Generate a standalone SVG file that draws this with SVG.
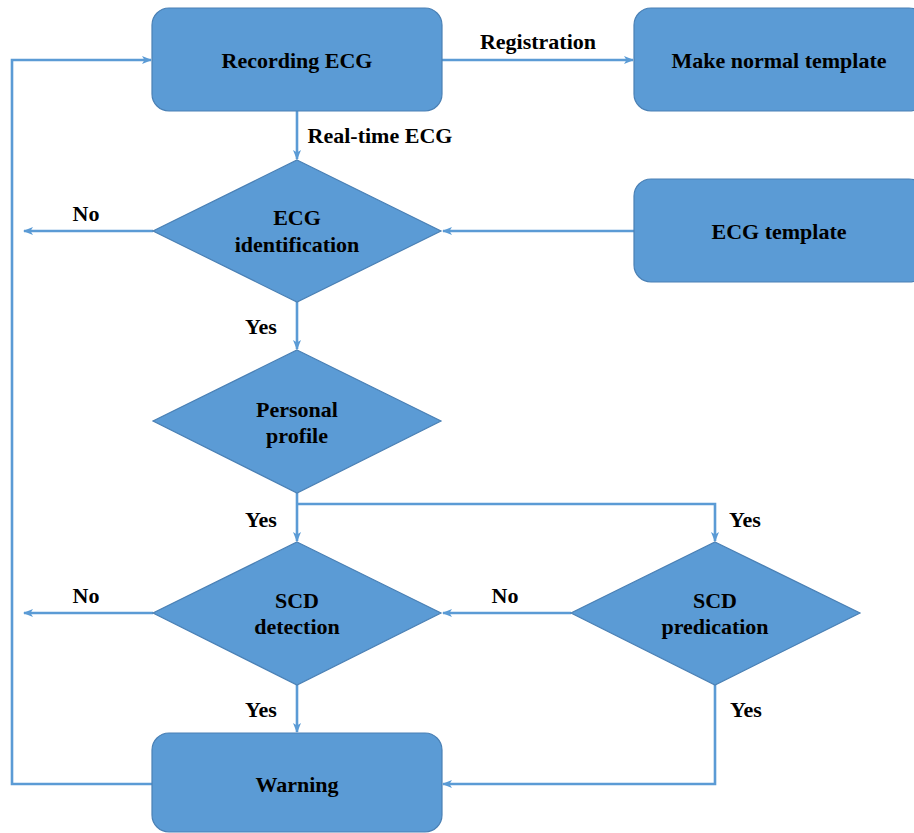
<svg xmlns="http://www.w3.org/2000/svg" width="914" height="833" viewBox="0 0 914 833">
  <style>
    .box { fill: #5b9bd5; stroke: #4a80b5; stroke-width: 1.2; }
    .lbl { font-family: "Liberation Serif", "Times New Roman", serif; font-weight: bold; font-size: 22px; fill: #000; text-anchor: middle; }
    .edge { fill: none; stroke: #5b9bd5; stroke-width: 2.6; }
  </style>
  <defs>
    <marker id="arrow" markerUnits="userSpaceOnUse" markerWidth="10" markerHeight="10" viewBox="0 0 10 10" refX="9" refY="5" orient="auto">
      <path d="M0,1 L10,5 L0,9 L2.5,5 Z" fill="#5b9bd5"/>
    </marker>
  </defs>
  <rect width="914" height="833" fill="#fff"/>

  <!-- connectors -->
  <g id="connectors">
    <path class="edge" d="M442,60 H633" marker-end="url(#arrow)"/>
    <path class="edge" d="M297,111 V159" marker-end="url(#arrow)"/>
    <path class="edge" d="M634,231 H443" marker-end="url(#arrow)"/>
    <path class="edge" d="M153,231 H24" marker-end="url(#arrow)"/>
    <path class="edge" d="M297,302 V349" marker-end="url(#arrow)"/>
    <path class="edge" d="M297,493 V541" marker-end="url(#arrow)"/>
    <path class="edge" d="M297,504 H715 V541" marker-end="url(#arrow)"/>
    <path class="edge" d="M153,613 H24" marker-end="url(#arrow)"/>
    <path class="edge" d="M571,613 H443" marker-end="url(#arrow)"/>
    <path class="edge" d="M297,685 V732" marker-end="url(#arrow)"/>
    <path class="edge" d="M715,685 V784 H443" marker-end="url(#arrow)"/>
    <path class="edge" d="M152,784 H12 V60 H151" marker-end="url(#arrow)"/>
    <text class="lbl" x="538" y="49">Registration</text>
    <text class="lbl" x="380" y="143">Real-time ECG</text>
    <text class="lbl" x="86" y="221">No</text>
    <text class="lbl" x="261" y="334">Yes</text>
    <text class="lbl" x="261" y="527">Yes</text>
    <text class="lbl" x="745" y="527">Yes</text>
    <text class="lbl" x="86" y="603">No</text>
    <text class="lbl" x="505" y="603">No</text>
    <text class="lbl" x="261" y="717">Yes</text>
    <text class="lbl" x="746" y="717">Yes</text>
  </g>

  <g id="recording">
    <rect class="box" x="152" y="8" width="290" height="103" rx="17"/>
    <text class="lbl" x="297" y="68">Recording ECG</text>
  </g>
  <g id="normal-template">
    <rect class="box" x="634" y="8" width="292" height="103" rx="17"/>
    <text class="lbl" x="779" y="68">Make normal template</text>
  </g>
  <g id="ecg-template">
    <rect class="box" x="634" y="179" width="292" height="103" rx="17"/>
    <text class="lbl" x="779" y="239">ECG template</text>
  </g>
  <g id="ecg-identification">
    <polygon class="box" points="297,160 441,231 297,302 153,231"/>
    <text class="lbl" x="297" y="225">ECG</text>
    <text class="lbl" x="297" y="252">identification</text>
  </g>
  <g id="personal-profile">
    <polygon class="box" points="297,350 441,421 297,493 153,421"/>
    <text class="lbl" x="297" y="417">Personal</text>
    <text class="lbl" x="297" y="443">profile</text>
  </g>
  <g id="scd-detection">
    <polygon class="box" points="297,542 441,613 297,685 153,613"/>
    <text class="lbl" x="297" y="608">SCD</text>
    <text class="lbl" x="297" y="634">detection</text>
  </g>
  <g id="scd-predication">
    <polygon class="box" points="715,542 860,613 715,685 571,613"/>
    <text class="lbl" x="715" y="608">SCD</text>
    <text class="lbl" x="715" y="634">predication</text>
  </g>
  <g id="warning">
    <rect class="box" x="152" y="733" width="290" height="99" rx="17"/>
    <text class="lbl" x="297" y="792">Warning</text>
  </g>
</svg>
